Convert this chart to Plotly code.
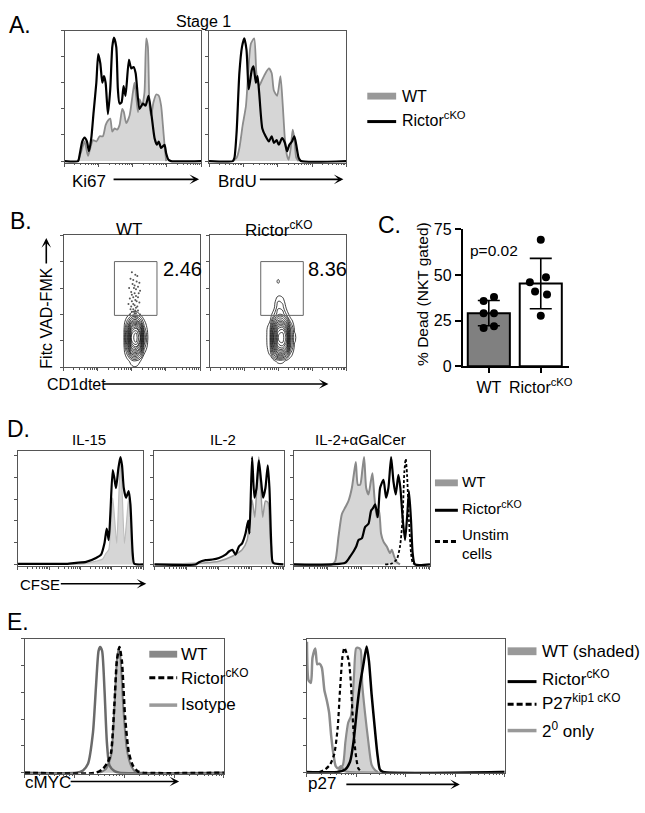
import numpy as np
import plotly.graph_objects as go

W, H = 645, 813
FONT = "Liberation Sans, Arial, sans-serif"
FRAME = "#555555"
WT_FILL = "#d6d6d6"
WT_LINE = "#8c8c8c"

# ---------- A. Stage 1 histograms (x: 0-100 log scale, y: % of max) ----------
ki67_ko = [(0, 0), (9.8, 0), (11, 5), (12.9, 15), (14.6, 18), (16.3, 15), (17.8, 7.5), (19.5, 17.5),
           (21.2, 37.5), (23.2, 60), (24.6, 82), (26.1, 75), (27.6, 60), (28.8, 65), (30, 60), (31.7, 36),
           (33.4, 55), (34.9, 87.5), (36.1, 94.5), (37.8, 87.5), (39, 55), (40.2, 44), (41.7, 45),
           (43.2, 57.5), (44.6, 50), (47.1, 77.5), (48.8, 71), (50.5, 72), (52, 67.5), (54.9, 40),
           (57.3, 44), (59.3, 42.5), (61.5, 50), (63.4, 37.5), (65.9, 17.5), (67.6, 12.5), (69, 15),
           (70.7, 10), (73.2, 12.5), (74.4, 6), (76.1, 1), (78, 0), (100, 0)]
ki67_wt = [(9.8, 0), (12.2, 7.5), (14.6, 15), (17.1, 4), (18.8, 10), (20.7, 16), (23.2, 15), (25.6, 19),
           (28, 19), (30, 27.5), (31.7, 31), (33.4, 32.5), (34.9, 22.5), (36.6, 25), (38.3, 24), (40.2, 27.5),
           (42.2, 40), (43.4, 37.5), (45.1, 29), (47.6, 35), (50, 52.5), (51.2, 60), (52.4, 50), (53.7, 37.5),
           (54.9, 47.5), (56.8, 42.5), (58.5, 52.5), (59.8, 94), (61, 87.5), (62.2, 42.5), (63.4, 35),
           (65.1, 45), (67.1, 51), (69, 50), (70.7, 42.5), (72, 27.5), (73.2, 12.5), (74.4, 0)]
brdu_ko = [(0, 0), (17.3, 0), (18.5, 2.5), (20.1, 22.5), (22.1, 67.5), (24, 87.5), (25.7, 94), (27.3, 85),
           (28.8, 55), (29.7, 60), (31.2, 70), (32.4, 72.5), (34.1, 60), (35.3, 65), (36.5, 52.5), (38.8, 25),
           (41.2, 19), (43.6, 15), (45.6, 19), (47.2, 14), (49.2, 16), (50.8, 12.5), (53.2, 17.5), (55.2, 14),
           (56.8, 7.5), (58.5, 12.5), (60.4, 15), (62.1, 19), (63.5, 12.5), (65.2, 2.5), (66.9, 0), (100, 0)]
brdu_wt = [(17.3, 0), (20.1, 2.5), (22.1, 10), (24.5, 27.5), (26.9, 42.5), (28.8, 72.5), (30.5, 90),
           (32.9, 94), (34.5, 67.5), (36.5, 57.5), (38.8, 62.5), (41.2, 67.5), (43.6, 71), (45.6, 67.5),
           (47.2, 54), (49.6, 50), (52, 65), (53.7, 42.5), (55.2, 17.5), (56.8, 4), (58, 1), (59.5, 10),
           (60.9, 24), (62.1, 17.5), (63.5, 2.5), (65.2, 0)]

# ---------- B. Fitc VAD-FMK vs CD1dtet contour densities ----------
b_grid_x = [40, 44, 47, 50, 53, 56, 59, 62, 66]
b_grid_y = [0, 5, 10, 15, 20, 25, 30, 35, 40, 45, 50, 55, 60, 65, 70]
b_wt_z = [
    [0, 0, 0, 0.3, 0.4, 0, 0, 0, 0],
    [0, 0, 0.3, 1, 1.2, 0.6, 0, 0, 0],
    [0, 0, 1.5, 4, 4.5, 3, 0.5, 0, 0],
    [0, 0.2, 3, 7, 8, 6, 1.5, 0, 0],
    [0, 0.3, 4, 9, 10, 8, 2.5, 0.2, 0],
    [0, 0.3, 4, 9, 10, 8, 2.5, 0.2, 0],
    [0, 0.2, 3, 7, 8, 6, 1.5, 0, 0],
    [0, 0, 1.5, 3.5, 4, 2.5, 0.6, 0, 0],
    [0, 0, 0.2, 0.8, 0.9, 0.5, 0, 0, 0],
    [0, 0, 0, 0, 0, 0, 0, 0, 0],
    [0, 0, 0, 0, 0, 0, 0, 0, 0],
    [0, 0, 0, 0, 0, 0, 0, 0, 0],
    [0, 0, 0, 0, 0, 0, 0, 0, 0],
    [0, 0, 0, 0, 0, 0, 0, 0, 0],
    [0, 0, 0, 0, 0, 0, 0, 0, 0],
]
b_ko_z = [
    [0, 0, 0, 0, 0, 0, 0, 0, 0],
    [0, 0, 0.4, 0.8, 0.8, 0.4, 0, 0, 0],
    [0, 0.6, 3, 5, 5, 3.5, 1, 0, 0],
    [0, 1, 5, 8, 8.5, 7, 2.5, 0.3, 0],
    [0, 1.2, 6, 9.5, 10, 8.5, 3, 0.6, 0],
    [0, 1.2, 6, 9.5, 10, 8.5, 3, 0.6, 0],
    [0, 1, 5, 8, 8.5, 6.5, 2.5, 0.3, 0],
    [0, 0.5, 3, 5, 5, 3.5, 1, 0, 0],
    [0, 0, 1.2, 2.5, 2.5, 1.2, 0, 0, 0],
    [0, 0, 0.4, 1.8, 1.6, 0.4, 0, 0, 0],
    [0, 0, 0.2, 1.2, 1, 0, 0, 0, 0],
    [0, 0, 0, 0.3, 0.2, 0, 0, 0, 0],
    [0, 0, 0, 0, 0, 0, 0, 0, 0],
    [0, 0, 0, 0.7, 0, 0, 0, 0, 0],
    [0, 0, 0, 0, 0, 0, 0, 0, 0],
]
wt_gate_dots_x = [50, 52.5, 54, 49, 51, 53.5, 55.5, 50.5, 52, 54.5, 48, 51.5, 53, 56, 49.5, 52, 55, 50,
                  53, 51, 54.5, 48.5, 52.5, 50, 53.5, 55.5, 51, 47.5, 52, 54, 49.5, 53, 51, 49, 52.5,
                  54.5, 51.5, 50, 53, 52, 56, 48.5, 51, 54, 52.5]
wt_gate_dots_y = [72, 70, 69, 67, 66, 65, 64, 63, 62, 61, 60, 60, 59, 58, 57, 56, 56, 55, 54, 53, 53,
                  52, 51, 50, 50, 49, 48, 48, 47, 46, 46, 45, 44, 44, 43, 43, 42, 42, 41, 41, 40, 40,
                  39, 39, 38]
gate_pct = [2.46, 8.36]

# ---------- C. % dead ----------
c_groups = ["WT", "Rictor<sup>cKO</sup>"]
c_means = [29.1, 45.3]
c_sd = [6.9, 13.8]
c_wt_pts = [35.7, 38, 29, 29, 21, 22]
c_ko_pts = [69.3, 46, 48.7, 41, 39.3, 27.7]

# ---------- D. CFSE dilution ----------
il15_ko = [(0, 0.6), (38.5, 0.6), (46.4, 1.5), (54.4, 2.4), (62.3, 6), (66.3, 9), (69, 19.4), (70.8, 32.8),
           (72.4, 22.4), (73.7, 46.3), (75.6, 86.6), (76.9, 79.1), (78.2, 70.1), (80.1, 88), (81.7, 98.5),
           (83, 91), (84.4, 70.1), (86.2, 61.2), (88.3, 67.2), (89.7, 55.2), (91.5, 10.4), (92.8, 0.6),
           (100, 0)]
il15_wt = [(0, 0), (51.7, 0.6), (62.3, 3), (67.6, 5), (70.3, 10.4), (72.4, 13.4), (74.3, 40.3), (75.6, 61.2),
           (77.2, 40.3), (78.8, 19.4), (80.4, 61.2), (81.7, 94), (83, 70.1), (84.9, 19.4), (86.7, 40.3),
           (88.3, 61.2), (89.7, 40.3), (91, 4.5), (92.8, 0)]
il2_ko = [(0, 0), (32, 0), (34.6, 2.1), (39.7, 3.9), (44.9, 4.5), (50, 6), (55.1, 9), (57.7, 11.9),
          (60.3, 13.4), (62.8, 9), (65.4, 16.4), (67.9, 19.4), (70.5, 28.4), (72.6, 40.3), (73.6, 28.4),
          (75.6, 98.5), (77.4, 61.2), (79, 70.1), (80.8, 95.5), (82.6, 76.1), (84.1, 61.2), (85.9, 70.1),
          (87.7, 91), (89, 70.1), (90.5, 16.4), (91.8, 1.5), (100, 0)]
il2_wt = [(0, 0), (39.7, 1.5), (50, 3), (60.3, 7.5), (67.9, 13.4), (71.8, 22.4), (73.6, 40.3), (75.6, 59.1),
          (77.7, 43.3), (79.2, 70.1), (80.8, 98.5), (82.3, 70.1), (83.8, 43.3), (85.9, 58.2), (87.9, 56.7),
          (89.7, 22.4), (91.5, 3), (93.6, 0)]
gal_wt = [(0, 0), (28, 0), (30.5, 3), (32.9, 25.4), (35.4, 46.3), (37.8, 52.2), (40.2, 58.2), (42.7, 70.1),
          (44.1, 82.1), (45.6, 94), (47.1, 73.1), (48.8, 73.1), (50.5, 88), (51.7, 98.5), (53.2, 70.1),
          (54.9, 64.2), (56.6, 76.1), (57.8, 83.6), (59.3, 61.2), (61, 43.3), (62.7, 49.3), (64.1, 28.4),
          (65.9, 20.9), (68.3, 16.4), (70.7, 10.4), (72, 13.4), (73.7, 7.5), (75.6, 2.1), (78, 0)]
gal_ko = [(0, 0), (37.8, 1.5), (41.5, 7.5), (43.9, 11.9), (45.9, 16.4), (47.6, 22.4), (50, 23.9),
          (52.4, 34.3), (54.9, 37.3), (56.8, 49.3), (58.5, 52.2), (59.8, 55.2), (61.7, 43.3), (63.4, 70.1),
          (65.9, 77.6), (67.8, 61.2), (69.5, 70.1), (71.5, 98.5), (73.2, 76.1), (74.9, 64.2), (76.8, 82.1),
          (78.3, 70.1), (79.8, 44.8), (81.7, 22.4), (83.2, 43.3), (84.6, 67.2), (86.1, 40.3), (87.3, 10.4),
          (89, 0), (100, 0)]
gal_unstim = [(67.1, 0), (72, 0.9), (75.6, 4.5), (78, 16.4), (79.8, 40.3), (81.2, 85.1), (82.2, 97),
              (83.2, 82.1), (84.6, 40.3), (86.1, 10.4), (87.3, 1.5), (89, 0)]

# ---------- E. cMYC and p27 ----------
myc_iso = [(0, 0), (25.8, 0), (29.2, 1.7), (31.7, 6.6), (34.2, 29.8), (35.8, 66.3), (37, 90.7), (37.8, 93.7),
           (38.8, 90.7), (40, 61.5), (41.2, 22.4), (42.5, 5.4), (45, 1.2), (47.5, 0), (100, 0)]
myc_wt = [(37.5, 0), (40.8, 2.9), (43.3, 12.7), (45, 49.3), (46.2, 83.4), (47.2, 93.2), (48, 85.9),
          (49.5, 46.8), (51.2, 17.6), (53.3, 5.4), (55.8, 0.5), (59.2, 0)]
myc_ko = [(0, 0), (35.8, 0), (39.2, 2.9), (41.7, 7.8), (43.3, 15.1), (45, 51.7), (46.2, 83.4), (47.5, 93.7),
          (48.7, 83.4), (50.3, 42), (52.2, 15.1), (54.2, 5.4), (56.7, 1), (59.2, 0), (100, 0)]
p27_sec = [(0.2, 98), (1, 69), (2.2, 67), (3, 86), (4.4, 93), (5.4, 81), (6.5, 81.5), (7.7, 78.6), (9, 61.5),
           (10.2, 54), (11.4, 44.5), (12.4, 27.5), (13.6, 13), (14.7, 4.4), (16, 2.7), (17.3, 4.4), (19, 1),
           (21, 0), (100, 0)]
p27_wt = [(14, 0), (16, 0.5), (18.4, 5.6), (19.6, 22.6), (21, 37), (22.4, 42), (23.2, 54), (24, 74),
          (25, 93), (26.1, 93.5), (27.3, 92), (28.1, 66), (29.5, 44.5), (31.2, 22.6), (32.8, 5.6),
          (34.5, 1.5), (36, 0)]
p27_ko = [(0, 0), (16, 0), (19.6, 2), (22, 8), (23.7, 22.6), (25.4, 47), (27, 66), (28.6, 80), (30.3, 94.4),
          (31.5, 83.4), (32.8, 59), (34.5, 32), (35.8, 13), (37, 2), (38.7, 0), (100, 0)]
p27_kip = [(6.5, 0), (9.4, 2), (11.9, 5.6), (14, 13.6), (15.7, 33), (16.9, 62), (18.1, 86.4), (19.1, 93.5),
           (20.3, 89), (21.4, 83), (22.4, 66), (23.6, 33), (24.8, 13.6), (26.1, 2.9), (27.8, 0)]


def xd(a, b):
    return [a / W, b / W]


def yd(a, b):
    return [1 - b / H, 1 - a / H]


def sfx(n):
    return "" if n == 1 else str(n)


fig = go.Figure()
layout = dict(width=W, height=H, margin=dict(l=0, r=0, t=0, b=0), paper_bgcolor="white",
              plot_bgcolor="white", showlegend=False, font=dict(family=FONT, color="black"))

decades = [0, 25, 50, 75, 100]
minor_x = [d + 25 * np.log10(k) for d in decades[:-1] for k in range(2, 10)]


def flow_axes(n, px0, px1, py0, py1, yr):
    s = sfx(n)
    layout["xaxis" + s] = dict(domain=xd(px0, px1), anchor="y" + s, range=[0, 100], showline=True,
                               mirror=True, linecolor=FRAME, linewidth=1, showgrid=False, zeroline=False,
                               showticklabels=False, ticks="outside", ticklen=3, tickcolor=FRAME,
                               tickvals=decades,
                               minor=dict(tickmode="array", tickvals=minor_x, ticks="outside",
                                          ticklen=1.5, tickcolor=FRAME))
    layout["yaxis" + s] = dict(domain=yd(py0, py1), anchor="x" + s, range=yr, showline=True, mirror=True,
                               linecolor=FRAME, linewidth=1, showgrid=False, zeroline=False,
                               showticklabels=False, ticks="outside", ticklen=3, tickcolor=FRAME,
                               tickvals=[0, 20, 40, 60, 80, 100])


def hist(n, pts, color, width=2.2, dash="solid", fill=None):
    s = sfx(n)
    xs, ys = zip(*pts)
    fig.add_trace(go.Scatter(x=xs, y=ys, xaxis="x" + s, yaxis="y" + s, mode="lines",
                             line=dict(color=color, width=width, dash=dash, shape="spline", smoothing=0.6),
                             fill="tozeroy" if fill else None, fillcolor=fill, hoverinfo="skip"))


# panel axes
flow_axes(1, 65, 202, 23, 158, [-1.25, 100])
flow_axes(2, 210, 348, 23, 158, [-1.25, 100])
flow_axes(3, 64, 201, 232, 367, [0, 100])
flow_axes(4, 211, 348, 232, 367, [0, 100])
flow_axes(6, 18, 144, 452, 570, [-1.5, 104.5])
flow_axes(7, 155, 285, 452, 570, [-1.5, 104.5])
flow_axes(8, 295, 432, 452, 570, [-1.5, 104.5])
flow_axes(9, 25, 225, 644, 782, [-0.7, 100])
flow_axes(10, 308, 507, 644, 781, [-0.5, 100.4])

# A
hist(1, ki67_wt, WT_LINE, 1.8, fill=WT_FILL)
hist(1, ki67_ko, "black")
hist(2, brdu_wt, WT_LINE, 1.8, fill=WT_FILL)
hist(2, brdu_ko, "black")

# B contours
for n, z in ((3, b_wt_z), (4, b_ko_z)):
    s = sfx(n)
    fig.add_trace(go.Contour(x=b_grid_x, y=b_grid_y, z=z, xaxis="x" + s, yaxis="y" + s,
                             contours=dict(coloring="lines", start=0.5, end=10, size=0.7),
                             line=dict(width=0.8, smoothing=1.3),
                             colorscale=[[0, "#111111"], [1, "#111111"]], showscale=False,
                             hoverinfo="skip"))
fig.add_trace(go.Scatter(x=wt_gate_dots_x, y=wt_gate_dots_y, xaxis="x3", yaxis="y3", mode="markers",
                         marker=dict(size=2, color="#555555"), hoverinfo="skip"))

# C bar chart
layout["xaxis5"] = dict(domain=xd(465, 572), anchor="y5", range=[-0.5, 1.55], tickvals=[0, 1],
                        ticktext=c_groups, ticks="outside", ticklen=5, tickwidth=2, tickcolor="black",
                        showline=True, linewidth=2, linecolor="black", showgrid=False, zeroline=False,
                        tickfont=dict(size=16))
layout["yaxis5"] = dict(domain=yd(226, 366), anchor="x5", range=[0, 75], tickvals=[0, 25, 50, 75],
                        ticks="outside", ticklen=6, tickwidth=2, tickcolor="black", showline=True,
                        linewidth=2, linecolor="black", showgrid=False, zeroline=False,
                        tickfont=dict(size=16))
fig.add_trace(go.Bar(x=[0, 1], y=c_means, width=0.81, xaxis="x5", yaxis="y5",
                     marker=dict(color=["#808080", "white"], line=dict(color="black", width=2)),
                     error_y=dict(type="data", array=c_sd, color="black", thickness=1.6, width=11)))
wt_jit = [-0.1, 0.1, -0.1, 0.1, -0.1, 0.1]
ko_jit = [0, -0.21, 0.1, -0.11, 0.12, 0]
fig.add_trace(go.Scatter(x=[0 + j for j in wt_jit], y=c_wt_pts, xaxis="x5", yaxis="y5", mode="markers",
                         marker=dict(size=8, color="black")))
fig.add_trace(go.Scatter(x=[1 + j for j in ko_jit], y=c_ko_pts, xaxis="x5", yaxis="y5", mode="markers",
                         marker=dict(size=8, color="black")))

# D
hist(6, il15_wt, "#bdbdbd", 1.2, fill=WT_FILL)
hist(6, il15_ko, "black")
hist(7, il2_wt, "#9a9a9a", 1.5, fill=WT_FILL)
hist(7, il2_ko, "black")
hist(8, gal_wt, "#8a8a8a", 2, fill=WT_FILL)
hist(8, gal_ko, "black")
hist(8, gal_unstim, "black", 1.8, dash="3px,2px")

# E
hist(9, myc_wt, "#7a7a7a", 2, fill="#c8c8c8")
hist(9, myc_iso, "#6a6a6a", 2.5)
hist(9, myc_ko, "black", 2.5, dash="5px,3px")
hist(10, p27_wt, "#8c8c8c", 2.2, fill="#d2d2d2")
hist(10, p27_sec, "#8c8c8c", 2.5)
hist(10, p27_kip, "black", 2.2, dash="4px,3px")
hist(10, p27_ko, "black", 2.5)

# ---------- text, gates, legends, arrows ----------
ann = []
shapes = []


def txt(px, py, s, size=16, anchor="center", angle=0):
    ann.append(dict(x=px / W, y=1 - py / H, xref="paper", yref="paper", text=s, showarrow=False,
                    xanchor=anchor, yanchor="middle", textangle=angle, font=dict(size=size, family=FONT)))


def arrow(px0, py0, px1, py1):
    ann.append(dict(x=px1 / W, y=1 - py1 / H, xref="paper", yref="paper", ax=px0 - px1, ay=py0 - py1,
                    text="", showarrow=True, arrowhead=3, arrowsize=1, arrowwidth=1.6,
                    arrowcolor="black"))


def leg_box(px0, px1, py, color, h=7):
    shapes.append(dict(type="rect", xref="paper", yref="paper", x0=px0 / W, x1=px1 / W,
                       y0=1 - (py + h / 2) / H, y1=1 - (py - h / 2) / H, fillcolor=color,
                       line=dict(width=0)))


def leg_line(px0, px1, py, color, width=3, dash="solid"):
    shapes.append(dict(type="line", xref="paper", yref="paper", x0=px0 / W, x1=px1 / W,
                       y0=1 - py / H, y1=1 - py / H, line=dict(color=color, width=width, dash=dash)))


# A
txt(7, 17, "A.", 23, "left")
txt(204, 14, "Stage 1", 16)
txt(70, 177, "Ki67", 17, "left")
arrow(113, 175, 200, 175)
txt(217, 177, "BrdU", 17, "left")
arrow(260, 175, 345, 175)
leg_box(369, 398, 90, "#999999")
txt(402, 90, "WT", 16, "left")
leg_line(369, 398, 116, "black")
txt(402, 113, "Rictor<sup>cKO</sup>", 16, "left")

# B
txt(8, 218, "B.", 23, "left")
txt(130, 226, "WT", 17)
txt(280, 226, "Rictor<sup>cKO</sup>", 17)
txt(46.5, 317, "Fitc VAD-FMK", 16, angle=-90)
arrow(46.5, 262, 46.5, 235)
txt(45, 385, "CD1dtet", 16, "left")
arrow(103, 384, 330, 384)
for n, v, lx in ((3, gate_pct[0], 162), (4, gate_pct[1], 307)):
    s = sfx(n)
    shapes.append(dict(type="rect", xref="x" + s, yref="y" + s, x0=37.2, x1=68.4, y0=39.3, y1=80,
                       line=dict(color="#666666", width=1)))
    txt(lx, 266.5, f"{v:.2f}", 20, "left")

# C
txt(378, 222, "C.", 23, "left")
txt(425, 292, "% Dead (NKT gated)", 15.5, angle=-90)
txt(496, 248, "p=0.02", 15.5)

# D
txt(5, 430, "D.", 23, "left")
txt(89, 441, "IL-15", 15)
txt(224, 441, "IL-2", 15)
txt(362, 441, "IL-2+\u03b1GalCer", 15)
txt(18, 589, "CFSE", 15, "left")
arrow(60, 588, 147, 588)
leg_box(437, 460, 485, "#999999")
txt(462, 484, "WT", 15, "left")
leg_line(437, 460, 513, "black")
txt(462, 510, "Rictor<sup>cKO</sup>", 15, "left")
leg_line(437, 460, 545, "black", dash="5px,3px")
txt(462, 538, "Unstim", 15, "left")
txt(462, 557, "cells", 15, "left")

# E
txt(5, 627, "E.", 23, "left")
leg_box(150, 178, 660, "#888888")
txt(180, 660, "WT", 17, "left")
leg_line(150, 178, 684, "black", dash="6px,3px")
txt(180, 683, "Rictor<sup>cKO</sup>", 17, "left")
leg_line(150, 178, 712, "#9a9a9a", 3.5)
txt(180, 711, "Isotype", 17, "left")
txt(23, 791, "cMYC", 17, "left")
arrow(70, 790, 180, 790)
txt(307, 792, "p27", 17, "left")
arrow(347, 793, 462, 793)
leg_box(510, 539, 657, "#999999", 8)
txt(543, 657, "WT (shaded)", 17, "left")
leg_line(510, 539, 688, "black")
txt(543, 684, "Rictor<sup>cKO</sup>", 17, "left")
leg_line(510, 539, 711, "black", dash="6px,3px")
txt(543, 709, "P27<sup>kip1 cKO</sup>", 17, "left")
leg_line(510, 539, 738, "#999999", 3.5)
txt(543, 737, "2<sup>0</sup> only", 17, "left")

layout["annotations"] = ann
layout["shapes"] = shapes
fig.update_layout(**layout)
fig.write_html("out.html", config={"displayModeBar": False},
               post_script="document.body.style.margin='0';document.body.style.overflow='hidden';")
